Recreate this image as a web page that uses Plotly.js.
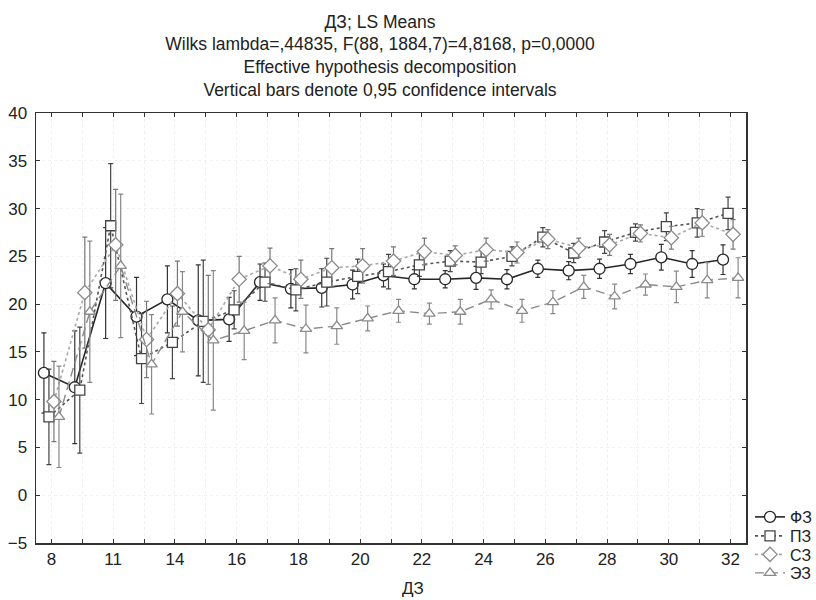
<!DOCTYPE html>
<html>
<head>
<meta charset="utf-8">
<script src="https://cdn.plot.ly/plotly-3.0.1.min.js"></script>
<style>
  html, body { margin: 0; padding: 0; background: #fff; }
  #chart { width: 816px; height: 600px; }
</style>
</head>
<body>
<div id="chart"></div>
<script>
// ДЗ score groups (every other one is labelled on the axis)
const categories = ['8', '9', '11', '12', '14', '15', '16', '17', '18', '19', '20', '21',
                    '22', '23', '24', '25', '26', '27', '28', '29', '30', '31', '32'];
const tickLabels = ['8', '', '11', '', '14', '', '16', '', '18', '', '20', '',
                    '22', '', '24', '', '26', '', '28', '', '30', '', '32'];

// LS means and half-widths of the 0,95 confidence intervals
const fzMean = [12.8, 11.3, 22.2, 18.7, 20.5, 18.3, 18.4, 22.3, 21.6, 21.7, 22.05, 23.0,
                22.6, 22.6, 22.75, 22.6, 23.7, 23.5, 23.7, 24.2, 24.9, 24.2, 24.65];
const fzCI   = [4.2, 5.9, 5.8, 4.1, 3.5, 5.8, 2.3, 1.9, 2.0, 2.0, 1.5, 1.2,
                1.0, 0.9, 1.2, 1.0, 0.9, 0.95, 1.0, 1.0, 1.35, 1.4, 1.55];

const pzMean = [8.2, 11.0, 28.2, 14.3, 16.0, 18.2, 19.4, 22.3, 21.5, 22.3, 22.9, 23.4,
                24.1, 24.5, 24.4, 25.0, 27.0, 25.35, 26.5, 27.5, 28.1, 28.5, 29.5];
const pzCI   = [5.0, 6.6, 6.5, 4.7, 3.8, 6.4, 2.0, 2.0, 2.2, 2.5, 1.8, 1.8,
                1.2, 1.1, 1.2, 1.0, 1.0, 1.0, 1.2, 0.9, 1.45, 1.5, 1.7];

const szMean = [9.8, 21.2, 26.2, 16.3, 21.1, 17.3, 22.6, 24.0, 22.6, 23.8, 24.0, 24.5,
                25.5, 25.1, 25.7, 25.4, 26.8, 25.9, 26.2, 27.4, 26.95, 28.5, 27.3];
const szCI   = [4.2, 5.8, 5.8, 4.0, 3.4, 5.7, 2.4, 1.85, 2.0, 2.0, 1.8, 1.5,
                1.4, 1.0, 1.2, 1.1, 1.0, 1.0, 1.1, 0.9, 1.2, 1.4, 1.55];

const ezMean = [8.2, 19.2, 24.0, 13.7, 19.2, 16.2, 17.2, 18.3, 17.4, 17.7, 18.5, 19.3,
                19.0, 19.2, 20.5, 19.3, 20.2, 21.8, 20.8, 22.05, 21.8, 22.5, 22.75];
const ezCI   = [5.3, 7.4, 7.5, 5.2, 4.2, 7.3, 3.0, 2.35, 2.5, 1.9, 1.3, 1.2,
                1.1, 1.3, 1.0, 1.2, 1.2, 1.2, 1.3, 1.1, 1.65, 1.85, 2.1];

const FONT = '"Liberation Sans", Arial, sans-serif';

function series(name, legendId, y, ci, opts) {
  return {
    type: 'scatter',
    mode: 'lines+markers',
    name: name,
    legend: legendId,
    x: categories,
    y: y,
    error_y: { type: 'data', array: ci, visible: true,
               color: opts.barColor, thickness: 1.2, width: 2.5 },
    line: { color: opts.lineColor, width: opts.lineWidth, dash: opts.dash },
    // white fill so the connecting lines stop at the marker outlines
    marker: { symbol: opts.symbol, size: opts.size, color: '#ffffff',
              line: { color: opts.markerColor, width: 1.3 } }
  };
}

const traces = [
  series('ФЗ', 'legend', fzMean, fzCI, { lineColor: '#262626', lineWidth: 1.6, dash: 'solid',
    symbol: 'circle', size: 11, markerColor: '#262626', barColor: '#333333' }),
  series('ПЗ', 'legend2', pzMean, pzCI, { lineColor: '#555555', lineWidth: 1.6, dash: 'dot',
    symbol: 'square', size: 10, markerColor: '#444444', barColor: '#444444' }),
  series('СЗ', 'legend3', szMean, szCI, { lineColor: '#a8a8a8', lineWidth: 1.6, dash: 'dot',
    symbol: 'diamond', size: 11, markerColor: '#8a8a8a', barColor: '#777777' }),
  series('ЭЗ', 'legend4', ezMean, ezCI, { lineColor: '#8a8a8a', lineWidth: 1.4, dash: '9px,5px',
    symbol: 'triangle-up', size: 10, markerColor: '#8a8a8a', barColor: '#888888' })
];

// one single-entry legend per series, stacked at the lower right of the page
function legendBox(rowY) {
  return {
    xref: 'container',
    yref: 'container',
    x: 750 / 816,
    xanchor: 'left',
    y: 1 - rowY / 600,
    yanchor: 'middle',
    itemwidth: 30,
    bgcolor: 'rgba(0,0,0,0)',
    borderwidth: 0,
    font: { family: FONT, size: 16, color: '#222222' }
  };
}

const layout = {
  width: 816,
  height: 600,
  paper_bgcolor: '#ffffff',
  plot_bgcolor: '#ffffff',
  font: { family: FONT, size: 17, color: '#222222' },
  margin: { l: 36, r: 70, t: 113, b: 57, autoexpand: false },
  scattermode: 'group',
  scattergap: 0.35,
  title: {
    text: 'ДЗ; LS Means<br>Wilks lambda=,44835, F(88, 1884,7)=4,8168, p=0,0000' +
          '<br>Effective hypothesis decomposition<br>Vertical bars denote 0,95 confidence intervals',
    font: { family: FONT, size: 17.5, color: '#222222' },
    x: 380 / 816,
    xanchor: 'center',
    xref: 'container',
    yref: 'container',
    y: 0.954,
    yanchor: 'top'
  },
  xaxis: {
    type: 'category',
    range: [-0.5, 22.5],
    tickmode: 'array',
    tickvals: categories,
    ticktext: tickLabels,
    ticks: 'inside',
    ticklen: 4,
    tickcolor: '#333333',
    showline: true,
    linecolor: '#333333',
    linewidth: 1.5,
    mirror: 'ticks',
    showgrid: true,
    gridcolor: '#f0f0f0',
    griddash: 'dot',
    zeroline: false,
    tickfont: { family: FONT, size: 17, color: '#222222' },
    fixedrange: true
  },
  yaxis: {
    range: [-5, 40],
    tickmode: 'linear',
    tick0: -5,
    dtick: 5,
    ticks: 'inside',
    ticklen: 4,
    tickcolor: '#333333',
    showline: true,
    linecolor: '#333333',
    linewidth: 1.5,
    mirror: 'ticks',
    showgrid: true,
    gridcolor: '#f0f0f0',
    griddash: 'dot',
    zeroline: false,
    ticklabelstandoff: 4,
    tickfont: { family: FONT, size: 17, color: '#222222' },
    fixedrange: true
  },
  legend: legendBox(517),
  legend2: legendBox(536),
  legend3: legendBox(554.5),
  legend4: legendBox(573),
  annotations: [{
    text: 'ДЗ',
    xref: 'paper', yref: 'paper',
    x: (413 - 36) / 710, y: -0.105,
    xanchor: 'center', yanchor: 'middle',
    showarrow: false,
    font: { family: FONT, size: 17, color: '#222222' }
  }],
  showlegend: true
};

Plotly.newPlot('chart', traces, layout, { displayModeBar: false, staticPlot: true });
</script>
</body>
</html>
